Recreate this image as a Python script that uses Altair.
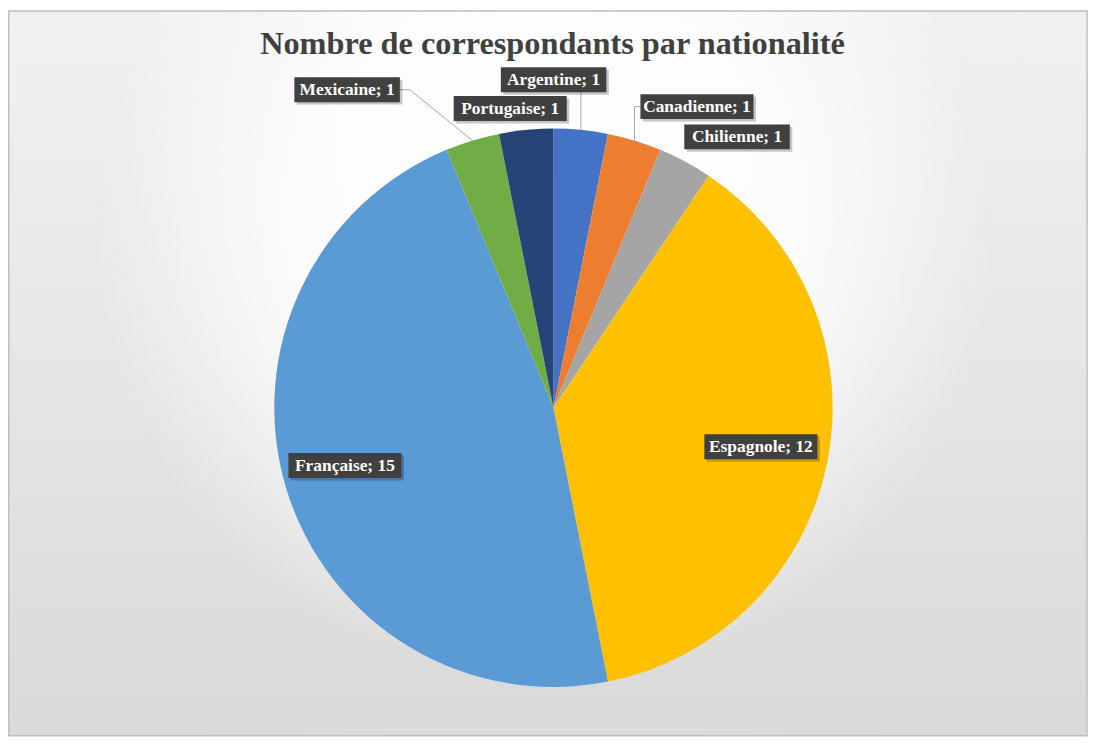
import math
import altair as alt
import pandas as pd

# ---- data ----
categories = ["Argentine", "Canadienne", "Chilienne", "Espagnole", "Française", "Mexicaine", "Portugaise"]
values = [1, 1, 1, 12, 15, 1, 1]
colors = ["#4472C4", "#ED7D31", "#A5A5A5", "#FFC000", "#5B9BD5", "#70AD47", "#264478"]
title_text = "Nombre de correspondants par nationalité"

# ---- label layout (angle shift from slice middle in degrees, radius as fraction of pie radius) ----
label_shift = [-5.6, 8.6, 6.0, -0.6, 1.4, -16.1, -2.6]
label_radius = [1.175, 1.195, 1.172, 0.756, 0.775, 1.358, 1.083]
leader = ["vertical", "vertical", "none", "none", "none", "diagonal", "none"]

W, H = 1080, 724
CX, CY, R = 549, 400, 281
FONT = "Liberation Serif"

total = sum(values)
rows, segs = [], []
cum = 0
for i, (c, v) in enumerate(zip(categories, values)):
    mid = (cum + v / 2) / total * 360
    cum += v
    a = math.radians(mid + label_shift[i])
    lx = CX + label_radius[i] * R * math.sin(a)
    ly = CY - label_radius[i] * R * math.cos(a)
    txt = f"{c}; {v}"
    bw = 7.6 * len(txt) + 15
    bh = 25
    x1, x2, y1, y2 = lx - bw / 2, lx + bw / 2, ly - bh / 2, ly + bh / 2
    rows.append(dict(idx=i, category=c, value=v, label=txt, lx=lx, ly=ly + 0.5,
                     x1=x1, x2=x2, y1=y1, y2=y2,
                     sx1=x1 + 2.5, sx2=x2 + 2.5, sy1=y1 + 2.5, sy2=y2 + 2.5))
    ex = CX + R * math.sin(math.radians(mid))
    ey = CY - R * math.cos(math.radians(mid))
    if leader[i] == "vertical":
        if x1 <= ex <= x2:
            segs.append(dict(a=ex, b=ey, c=ex, d=y2))
        else:
            side = x1 if ex < x1 else x2
            segs.append(dict(a=ex, b=ey, c=ex, d=ly))
            segs.append(dict(a=ex, b=ly, c=side, d=ly))
    elif leader[i] == "diagonal":
        if ex > x2:
            elbow, side = x2 + 10, x2
        else:
            elbow, side = x1 - 10, x1
        segs.append(dict(a=ex, b=ey, c=elbow, d=ly))
        segs.append(dict(a=elbow, b=ly, c=side, d=ly))

df = pd.DataFrame(rows)
seg_df = pd.DataFrame(segs)

px = alt.Scale(domain=[0, W], range=[0, W], nice=False, zero=False)
py = alt.Scale(domain=[0, H], range=[0, H], nice=False, zero=False)

one = pd.DataFrame({"t": [title_text]})

# background
bg_linear = alt.Chart(one).mark_rect(
    fill={"gradient": "linear", "x1": 0, "y1": 0, "x2": 0, "y2": 1,
          "stops": [{"offset": 0, "color": "#f1f1f1"},
                    {"offset": 0.5, "color": "#e6e6e6"},
                    {"offset": 1, "color": "#d9d9d9"}]},
    stroke="#bfbfbf", strokeWidth=1.5
).encode(x=alt.value(0.75), y=alt.value(0.75), x2=alt.value(W + 6), y2=alt.value(H + 6))

bg_glow = alt.Chart(one).mark_rect(
    fill={"gradient": "radial", "x1": 0.5, "y1": 0.37, "r1": 0,
          "x2": 0.5, "y2": 0.37, "r2": 0.42,
          "stops": [{"offset": 0, "color": "rgba(255,255,255,1)"},
                    {"offset": 0.55, "color": "rgba(255,255,255,0.85)"},
                    {"offset": 1, "color": "rgba(255,255,255,0)"}]}
).encode(x=alt.value(1.5), y=alt.value(1.5), x2=alt.value(W), y2=alt.value(H))

title = alt.Chart(one).mark_text(
    font=FONT, fontSize=32.5, fontWeight="bold", color="#404040", baseline="middle", align="center"
).encode(text="t:N", x=alt.value(548), y=alt.value(34))

pie = alt.Chart(df).mark_arc(radius=R).encode(
    theta=alt.Theta("value:Q", stack=True),
    color=alt.Color("category:N", scale=alt.Scale(domain=categories, range=colors), legend=None),
    order=alt.Order("idx:Q"),
    x=alt.value(CX), y=alt.value(CY),
)

leaders = alt.Chart(seg_df).mark_rule(color="#a6a6a6", strokeWidth=1).encode(
    x=alt.X("a:Q", scale=px, axis=None), y=alt.Y("b:Q", scale=py, axis=None),
    x2="c:Q", y2="d:Q",
)

shadows = alt.Chart(df).mark_rect(color="#000000", opacity=0.22).encode(
    x=alt.X("sx1:Q", scale=px, axis=None), x2="sx2:Q",
    y=alt.Y("sy1:Q", scale=py, axis=None), y2="sy2:Q",
)

boxes = alt.Chart(df).mark_rect(color="#404040").encode(
    x=alt.X("x1:Q", scale=px, axis=None), x2="x2:Q",
    y=alt.Y("y1:Q", scale=py, axis=None), y2="y2:Q",
)

labels = alt.Chart(df).mark_text(
    font=FONT, fontSize=17.5, fontWeight="bold", color="#ffffff", align="center", baseline="middle"
).encode(
    x=alt.X("lx:Q", scale=px, axis=None), y=alt.Y("ly:Q", scale=py, axis=None), text="label:N"
)

chart = alt.layer(bg_linear, bg_glow, title, pie, leaders, shadows, boxes, labels).properties(
    width=W, height=H, padding=0, background="#ffffff"
).configure_view(stroke=None)

chart.save("out.html", embed_options={"renderer": "svg", "actions": False})
